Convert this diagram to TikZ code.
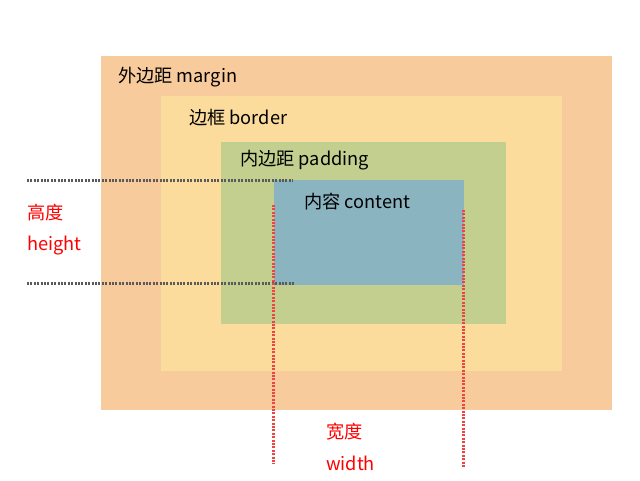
\documentclass[tikz,border=0pt]{standalone}
\usepackage{fontspec}
\setmainfont{Noto Sans CJK SC}
\definecolor{margincol}{HTML}{F8CB9D}
\definecolor{bordercol}{HTML}{FBDC9C}
\definecolor{paddingcol}{HTML}{C3CF8E}
\definecolor{contentcol}{HTML}{8BB4C1}
\definecolor{labelred}{HTML}{FF0000}
\definecolor{dotgray}{HTML}{5A5A5A}
\definecolor{dotred}{HTML}{EE4444}
\tikzset{
  boxlabel/.style={anchor=base west,inner sep=0pt,font=\fontsize{18.2}{22}\selectfont},
  dimlabel/.style={boxlabel,text=labelred},
  hdots/.style={draw=dotgray,line width=3pt,dash pattern=on 2pt off 1.4pt},
  vdots/.style={draw=dotred,line width=3pt,dash pattern=on 2pt off 1.4pt},
}
\begin{document}
\begin{tikzpicture}[x=1pt,y=-1pt]
    \useasboundingbox [fill=white] (0,0) rectangle (640,480);
    \fill [margincol] (101,56) rectangle (612,410);
    \fill [bordercol] (161,96) rectangle (562,371);
    \fill [paddingcol] (221,142) rectangle (506,324);
    \fill [contentcol] (274,180) rectangle (464,285);
    \node [boxlabel] (margintext) at (118,82) {外边距 margin};
    \node [boxlabel] (bordertext) at (189,124) {边框 border};
    \node [boxlabel] (paddingtext) at (240,165) {内边距 padding};
    \node [boxlabel] (contenttext) at (304,208) {内容 content};
    \node [dimlabel] (heightcn) at (27,219) {高度};
    \node [dimlabel] (heighten) at (27,250) {height};
    \node [dimlabel] (widthcn) at (326,438) {宽度};
    \node [dimlabel] (widthen) at (326,470) {width};
    \coordinate (topleft) at (27,180);
    \coordinate (topright) at (293,180);
    \coordinate (bottomleft) at (27,283);
    \coordinate (bottomright) at (295,283);
    \coordinate (leftupper) at (273,205);
    \coordinate (leftlower) at (273,464);
    \coordinate (rightupper) at (463,210);
    \coordinate (rightlower) at (463,468);
    \draw [hdots] (topleft) -- (topright);
    \draw [hdots] (bottomleft) -- (bottomright);
    \draw [vdots] (leftupper) -- (leftlower);
    \draw [vdots] (rightupper) -- (rightlower);
\end{tikzpicture}
\end{document}
